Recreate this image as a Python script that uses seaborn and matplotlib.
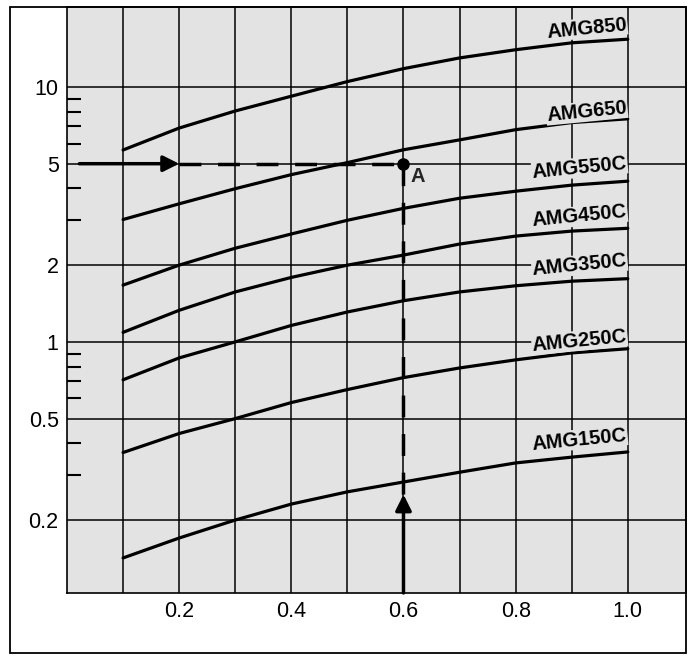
import pandas as pd
import seaborn as sns
import matplotlib.pyplot as plt
from matplotlib.patches import Rectangle

# -------------------------------
# Data
# -------------------------------
x_vals = [0.1, 0.2, 0.3, 0.4, 0.5, 0.6, 0.7, 0.8, 0.9, 1.0]

amg850 = [5.66, 6.9, 8.05, 9.2, 10.5, 11.8, 13.0, 14.0, 14.9, 15.4]
amg650 = [3.02, 3.48, 3.99, 4.53, 5.05, 5.67, 6.2, 6.8, 7.25, 7.5]
amg550c = [1.67, 2.0, 2.33, 2.65, 3.0, 3.34, 3.66, 3.9, 4.12, 4.27]
amg450c = [1.09, 1.33, 1.57, 1.79, 2.0, 2.19, 2.42, 2.6, 2.72, 2.79]
amg350c = [0.71, 0.865, 1.0, 1.16, 1.31, 1.45, 1.57, 1.66, 1.73, 1.77]
amg250c = [0.368, 0.437, 0.5, 0.578, 0.65, 0.724, 0.79, 0.85, 0.905, 0.94]
amg150c = [0.142, 0.17, 0.2, 0.231, 0.258, 0.282, 0.308, 0.335, 0.353, 0.37]

models = ["AMG850", "AMG650", "AMG550C", "AMG450C", "AMG350C", "AMG250C", "AMG150C"]
series = [amg850, amg650, amg550c, amg450c, amg350c, amg250c, amg150c]
label_y = [17.0, 8.0, 4.82, 3.11, 2.0, 1.01, 0.414]

y_ticks = [0.2, 0.5, 1, 2, 5, 10]
y_tick_labels = ["0.2", "0.5", "1", "2", "5", "10"]
y_minor = [0.3, 0.4, 0.6, 0.7, 0.8, 0.9, 3, 4, 6, 7, 8, 9]
x_grid = [0.1, 0.2, 0.3, 0.4, 0.5, 0.6, 0.7, 0.8, 0.9, 1.0]
x_tick_labels = ["", "0.2", "", "0.4", "", "0.6", "", "0.8", "", "1.0"]

# example reading: point A
point_a = (0.6, 5)

df = pd.concat(
    [pd.DataFrame({"x": x_vals, "flow": s, "model": m}) for m, s in zip(models, series)],
    ignore_index=True,
)

# -------------------------------
# Style
# -------------------------------
sns.set_theme(style="ticks")
plt.rcParams["font.family"] = ["Liberation Sans", "DejaVu Sans"]
bg = "#e3e3e3"

fig = plt.figure(figsize=(6.98, 6.64), dpi=100)
ax = fig.add_axes([0.096, 0.107, 0.887, 0.8825])
ax.set_facecolor(bg)

sns.lineplot(data=df, x="x", y="flow", hue="model", palette=["black"] * len(models),
             legend=False, lw=2.3, ax=ax, zorder=3)

ax.set_yscale("log")
ax.set_xlim(0, 1.104)
ax.set_ylim(0.1035, 20.6)

ax.set_xticks(x_grid)
ax.set_xticklabels(x_tick_labels)
ax.set_yticks(y_ticks)
ax.set_yticklabels(y_tick_labels)
ax.set_yticks(y_minor, minor=True)
ax.yaxis.set_minor_formatter(plt.NullFormatter())
ax.tick_params(axis="both", which="major", length=0, labelsize=15.5, colors="black", pad=6)
ax.tick_params(axis="y", which="minor", direction="in", length=10, width=1.5, color="black")
ax.tick_params(axis="x", which="minor", length=0)
ax.grid(True, which="major", color="black", lw=1.1, zorder=1)
ax.set_axisbelow(True)
for sp in ax.spines.values():
    sp.set_color("black")
    sp.set_linewidth(1.2)
ax.set_xlabel("")
ax.set_ylabel("")

# curve labels
for m, yl in zip(models, label_y):
    ax.text(1.0, yl, m, ha="right", va="center", rotation=5.5, fontsize=14.5,
            fontweight="bold", color="black", zorder=4,
            bbox=dict(facecolor=bg, edgecolor="none", pad=0.5))

# reading example: arrows, dashed guide lines, point A
dash = (6.3, 4.8)
ax.annotate("", xy=(0.2, point_a[1]), xytext=(0.022, point_a[1]),
            arrowprops=dict(arrowstyle="-|>", lw=2.5, color="black", mutation_scale=24,
                            shrinkA=0, shrinkB=0), zorder=5)
ax.plot([0.2, point_a[0]], [point_a[1], point_a[1]], color="black", lw=2.5,
        dashes=dash, zorder=5)
ax.annotate("", xy=(point_a[0], 0.252), xytext=(point_a[0], 0.1035),
            arrowprops=dict(arrowstyle="-|>", lw=2.5, color="black", mutation_scale=24,
                            shrinkA=0, shrinkB=0), zorder=5)
ax.plot([point_a[0], point_a[0]], [0.252, point_a[1]], color="black", lw=2.5,
        dashes=dash, zorder=5)
ax.plot([point_a[0]], [point_a[1]], marker="o", ms=8, color="black", zorder=6)
ax.text(0.613, 4.45, "A", ha="left", va="center", fontsize=14.5, fontweight="bold", zorder=6)

# outer frame around the whole chart
fig.patches.append(Rectangle((0.0143, 0.0166), 0.9685, 0.973, transform=fig.transFigure,
                             fill=False, edgecolor="black", lw=1.3))

fig.savefig("out.png", dpi=100, facecolor="white")
